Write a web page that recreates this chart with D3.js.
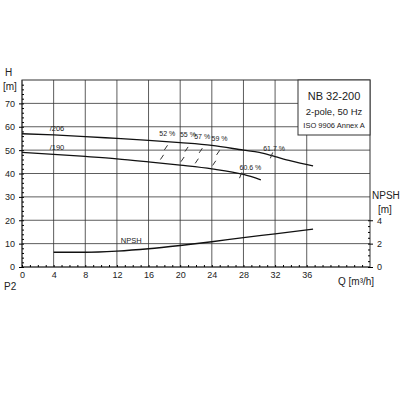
<!DOCTYPE html>
<html>
<head>
<meta charset="utf-8">
<style>
body { margin: 0; background: #fff; }
text { font-family: "Liberation Sans", Arial, sans-serif; fill: #222; }
</style>
</head>
<body>
<svg id="chart" width="400" height="400"></svg>
<script src="https://d3js.org/d3.v7.min.js"></script>
<script>
// curve data
const q206 = [0, 4, 8, 12, 16, 20, 24, 28, 30, 32, 34, 36.8];
const h206 = [57, 56.5, 55.8, 55, 54.2, 53.2, 52, 50, 49, 47.2, 45.4, 43.3];
const q190 = [0, 4, 8, 12, 16, 20, 24, 28, 30.2];
const h190 = [49, 48.2, 47.3, 46.3, 45, 43.6, 42, 39.6, 37.3];
const qNpsh = [4, 8, 12, 16, 20, 24, 28, 32, 36.8];
const npsh = [1.26, 1.26, 1.36, 1.56, 1.84, 2.16, 2.52, 2.84, 3.24];
const effLabels = ["52 %", "55 %", "57 %", "59 %"];
const effQ = [18, 20.6, 22.4, 24.6];
const xTicks = [0, 4, 8, 12, 16, 20, 24, 28, 32, 36];
const hTicks = [0, 10, 20, 30, 40, 50, 60, 70];
const npshTicks = [0, 2, 4];

const svg = d3.select('#chart');
const x = d3.scaleLinear().domain([0, 44]).range([22, 370]);
const y = d3.scaleLinear().domain([0, 80]).range([267, 80]);
const yN = d3.scaleLinear().domain([0, 16]).range([267, 80]);

// grid
svg.append('g').selectAll('line').data(xTicks).enter().append('line')
    .attr('x1', d => x(d)).attr('x2', d => x(d)).attr('y1', y(0)).attr('y2', y(80))
    .attr('stroke', '#333').attr('stroke-width', 0.8);
svg.append('g').selectAll('line').data(hTicks).enter().append('line')
    .attr('x1', x(0)).attr('x2', x(44)).attr('y1', d => y(d)).attr('y2', d => y(d))
    .attr('stroke', '#333').attr('stroke-width', 0.8);
svg.append('rect').attr('x', x(0)).attr('y', y(80)).attr('width', x(44) - x(0)).attr('height', y(0) - y(80))
    .attr('fill', 'none').attr('stroke', '#333');

// axes
svg.append('g').attr('transform', `translate(${x(0)},0)`)
    .call(d3.axisLeft(y).tickValues(hTicks).tickSize(3).tickPadding(4))
    .call(g => g.select('.domain').remove())
    .call(g => g.selectAll('text').attr('font-size', 9));
svg.append('g').attr('transform', `translate(${x(0)},0)`)
    .call(d3.axisRight(y).tickValues(d3.range(0, 80, 2)).tickSize(2).tickFormat(''))
    .call(g => g.select('.domain').remove());
svg.append('g').attr('transform', `translate(0,${y(0)})`)
    .call(d3.axisBottom(x).tickValues(xTicks).tickSize(0).tickPadding(5))
    .call(g => g.select('.domain').remove())
    .call(g => g.selectAll('text').attr('font-size', 9));
svg.append('g').attr('transform', `translate(0,${y(0)})`)
    .call(d3.axisTop(x).tickValues(d3.range(0, 44, 1)).tickSize(2).tickFormat(''))
    .call(g => g.select('.domain').remove());
svg.append('g').attr('transform', `translate(${x(44)},0)`)
    .call(d3.axisRight(yN).tickValues(npshTicks).tickSize(3).tickPadding(4))
    .call(g => g.select('.domain').remove())
    .call(g => g.selectAll('text').attr('font-size', 9));
svg.append('g').attr('transform', `translate(${x(44)},0)`)
    .call(d3.axisLeft(yN).tickValues(d3.range(0, 4.5, 0.5)).tickSize(2).tickFormat(''))
    .call(g => g.select('.domain').remove());

// axis titles
svg.append('text').attr('x', 5).attr('y', 76).attr('font-size', 10).text('H');
svg.append('text').attr('x', 3).attr('y', 90).attr('font-size', 10).text('[m]');
svg.append('text').attr('x', 372).attr('y', 199).attr('font-size', 10).text('NPSH');
svg.append('text').attr('x', 378).attr('y', 213).attr('font-size', 10).text('[m]');
svg.append('text').attr('x', 4).attr('y', 290).attr('font-size', 10).text('P2');
svg.append('text').attr('x', 338).attr('y', 285).attr('font-size', 10).text('Q [m³/h]');

// legend box
svg.append('rect').attr('x', 298).attr('y', 80).attr('width', 72).attr('height', 55)
    .attr('fill', '#fff').attr('stroke', '#333');
svg.append('text').attr('x', 334).attr('y', 100).attr('text-anchor', 'middle').attr('font-size', 11).text('NB 32-200');
svg.append('text').attr('x', 334).attr('y', 115).attr('text-anchor', 'middle').attr('font-size', 9.5).text('2-pole, 50 Hz');
svg.append('text').attr('x', 334).attr('y', 128).attr('text-anchor', 'middle').attr('font-size', 7.5).text('ISO 9906 Annex A');

// curves
const line = d3.line().curve(d3.curveMonotoneX);
svg.append('path').attr('d', line(q206.map((q, i) => [x(q), y(h206[i])])))
    .attr('fill', 'none').attr('stroke', '#111').attr('stroke-width', 1.3);
svg.append('path').attr('d', line(q190.map((q, i) => [x(q), y(h190[i])])))
    .attr('fill', 'none').attr('stroke', '#111').attr('stroke-width', 1.3);
svg.append('path').attr('d', line(qNpsh.map((q, i) => [x(q), yN(npsh[i])])))
    .attr('fill', 'none').attr('stroke', '#111').attr('stroke-width', 1.3);

svg.append('text').attr('x', x(3.5)).attr('y', y(58)).attr('font-size', 7.5).text('/206');
svg.append('text').attr('x', x(3.5)).attr('y', y(50)).attr('font-size', 7.5).text('/190');
svg.append('text').attr('x', x(12.5)).attr('y', y(10.4)).attr('font-size', 7.5).text('NPSH');

// efficiency marks
const hAt = (qs, hs, q) => d3.scaleLinear().domain(qs).range(hs)(q);
effQ.forEach((q, i) => {
    const top = hAt(q206, h206, q + 0.5), bot = hAt(q190, h190, q - 0.5);
    svg.append('line').attr('x1', x(q + 0.4)).attr('y1', y(top - 1.5)).attr('x2', x(q)).attr('y2', y(top - 3.5))
        .attr('stroke', '#333');
    svg.append('line').attr('x1', x(q - 0.1)).attr('y1', y(bot + 3.5)).attr('x2', x(q - 0.5)).attr('y2', y(bot + 1.5))
        .attr('stroke', '#333');
    svg.append('text').attr('x', x(q) - 5).attr('y', y(top + 2.6)).attr('font-size', 7).text(effLabels[i]);
});
svg.append('line').attr('x1', x(31.7)).attr('y1', y(49)).attr('x2', x(31.4)).attr('y2', y(46.5)).attr('stroke', '#333');
svg.append('text').attr('x', x(30.5)).attr('y', y(49.8)).attr('font-size', 7).text('61.7 %');
svg.append('line').attr('x1', x(27.8)).attr('y1', y(40.5)).attr('x2', x(27.5)).attr('y2', y(38)).attr('stroke', '#333');
svg.append('text').attr('x', x(27.5)).attr('y', y(41.5)).attr('font-size', 7).text('60.6 %');
</script>
</body>
</html>
